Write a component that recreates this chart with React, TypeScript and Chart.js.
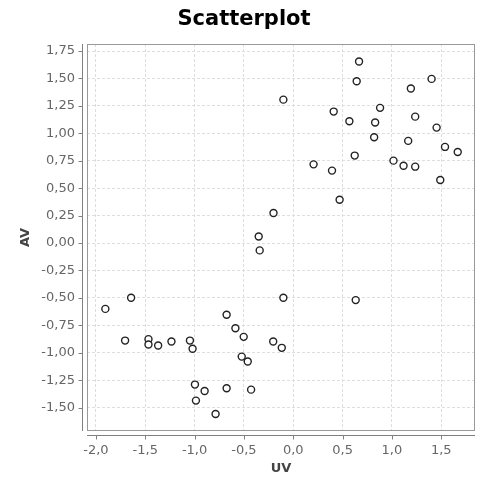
import React, { useEffect, useRef } from 'react';
import { Chart, registerables } from 'chart.js';

Chart.register(...registerables);

const uvValues = [
  0.667, 0.643, -0.10, 1.402, 1.192, 0.41, 0.88, 0.569, 0.83, 1.236, 1.453, 0.82,
  1.165, 1.538, 1.667, 0.623, 0.206, 0.393, 1.016, 1.118, 1.236, 1.49, 0.47, -0.20,
  -0.35, -0.34, -1.904, -1.643, -1.704, -1.467, -1.467, -1.369, -1.234, -1.047, -1.02,
  -0.675, -0.586, -0.502, -0.203, -0.116, -0.10, 0.633, -0.522, -0.461, -0.996, -0.898,
  -0.986, -0.675, -0.427, -0.787,
];
const avValues = [
  1.654, 1.474, 1.307, 1.496, 1.408, 1.198, 1.232, 1.110, 1.098, 1.152, 1.052, 0.964,
  0.931, 0.876, 0.830, 0.797, 0.717, 0.660, 0.751, 0.705, 0.696, 0.575, 0.395, 0.274,
  0.060, -0.067, -0.600, -0.499, -0.889, -0.876, -0.925, -0.934, -0.898, -0.889, -0.964,
  -0.654, -0.776, -0.855, -0.898, -0.955, -0.499, -0.520, -1.035, -1.080, -1.290, -1.348,
  -1.436, -1.323, -1.336, -1.558,
];
const xTickValues = [-2, -1.5, -1, -0.5, 0, 0.5, 1, 1.5];
const yTickValues = [-1.5, -1.25, -1, -0.75, -0.5, -0.25, 0, 0.25, 0.5, 0.75, 1, 1.25, 1.5, 1.75];
const xRange = [-2.09, 1.842];
const yRange = [-1.713, 1.814];
const titleText = 'Scatterplot';
const xTitle = 'UV';
const yTitle = 'AV';

const fmt = (v: number, d: number) => v.toFixed(d).replace('.', ',');

const jfreePlugin = {
  id: 'jfreeDecor',
  afterDraw(chart: any) {
    const { ctx, chartArea: a, scales } = chart;
    const x = scales.x;
    const y = scales.y;
    ctx.save();
    // plot outline
    ctx.strokeStyle = '#999';
    ctx.lineWidth = 1;
    ctx.strokeRect(a.left + 0.5, a.top + 0.5, a.right - a.left - 1, a.bottom - a.top - 1);
    // offset axis lines
    ctx.strokeStyle = '#808080';
    const yx = a.left - 4.5;
    ctx.beginPath();
    ctx.moveTo(yx, a.top);
    ctx.lineTo(yx, a.bottom);
    for (const v of yTickValues) {
      const py = Math.round(y.getPixelForValue(v)) + 0.5;
      ctx.moveTo(yx - 4, py);
      ctx.lineTo(yx, py);
    }
    const xy = a.bottom + 4.5;
    ctx.moveTo(a.left, xy);
    ctx.lineTo(a.right, xy);
    for (const v of xTickValues) {
      const px = Math.round(x.getPixelForValue(v)) + 0.5;
      ctx.moveTo(px, xy);
      ctx.lineTo(px, xy + 4);
    }
    ctx.stroke();
    // title
    ctx.fillStyle = '#000';
    ctx.font = 'bold 21px "DejaVu Sans"';
    ctx.textAlign = 'center';
    ctx.textBaseline = 'middle';
    ctx.fillText(titleText, 244, 20);
    ctx.restore();
  },
};

export default function App() {
  const ref = useRef<HTMLCanvasElement>(null);
  useEffect(() => {
    document.body.style.margin = '0';
    const canvas = ref.current;
    if (!canvas) return;
    const points = uvValues.map((u, i) => ({ x: u, y: avValues[i] }));
    const tickFont = { family: '"DejaVu Sans"', size: 13 };
    const titleFont = { family: '"DejaVu Sans"', size: 13, weight: 'bold' as const };
    const chart = new Chart(canvas, {
      type: 'scatter',
      data: {
        datasets: [
          {
            data: points,
            pointRadius: 3.5,
            pointBorderWidth: 1.4,
            pointBorderColor: '#222',
            pointBackgroundColor: '#fff',
          },
        ],
      },
      options: {
        animation: false,
        responsive: false,
        layout: { padding: { top: 44, right: 7, left: 0, bottom: 0 } },
        plugins: { legend: { display: false }, title: { display: false }, tooltip: { enabled: false } },
        scales: {
          x: {
            type: 'linear',
            min: xRange[0],
            max: xRange[1],
            afterBuildTicks: (s: any) => {
              s.ticks = xTickValues.map((v) => ({ value: v }));
            },
            afterFit: (s: any) => {
              s.height = 48;
            },
            grid: { color: '#dedede', drawTicks: false, lineWidth: 1 },
            border: { display: false, dash: [3, 2] },
            ticks: {
              color: '#666',
              font: tickFont,
              padding: 12,
              maxRotation: 0,
              autoSkip: false,
              callback: (v: any) => fmt(Number(v), 1),
            },
            title: { display: true, text: xTitle, color: '#444', font: titleFont, padding: { top: 0, bottom: 3 } },
          },
          y: {
            type: 'linear',
            min: yRange[0],
            max: yRange[1],
            afterBuildTicks: (s: any) => {
              s.ticks = yTickValues.map((v) => ({ value: v }));
            },
            afterFit: (s: any) => {
              s.width = 87;
            },
            grid: { color: '#dedede', drawTicks: false, lineWidth: 1 },
            border: { display: false, dash: [3, 2] },
            ticks: {
              color: '#666',
              font: tickFont,
              padding: 12,
              autoSkip: false,
              callback: (v: any) => fmt(Number(v), 2),
            },
            title: { display: true, text: yTitle, color: '#444', font: titleFont, padding: { top: 18, bottom: 0 } },
          },
        },
      },
      plugins: [jfreePlugin],
    });
    return () => chart.destroy();
  }, []);
  return <canvas ref={ref} width={482} height={479} style={{ display: 'block' }} />;
}
